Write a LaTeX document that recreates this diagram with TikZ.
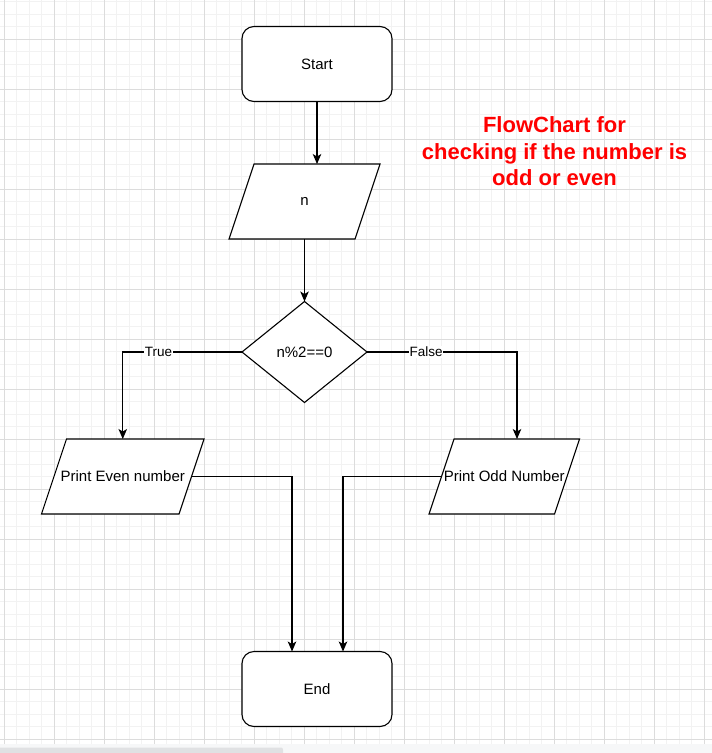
\documentclass[tikz,border=0pt]{standalone}
\usepackage{fontspec}
\setmainfont{Liberation Sans}
\usetikzlibrary{shapes.geometric,arrows.meta}
\definecolor{minorc}{RGB}{242,242,242}
\definecolor{majorc}{RGB}{220,220,220}
\definecolor{stripc}{RGB}{246,247,248}
\definecolor{thumbc}{RGB}{224,225,227}
\definecolor{titlered}{RGB}{255,0,0}
\tikzset{
  minorline/.style={draw=minorc, line width=0.9pt},
  majorline/.style={draw=majorc, line width=0.9pt},
  term/.style={draw, fill=white, rounded corners=12pt, line width=1.1pt,
    minimum width=150pt, minimum height=75pt, inner sep=0pt, outer sep=0pt,
    font=\fontsize{15}{18}\selectfont},
  io/.style={rectangle, minimum height=75pt, inner sep=0pt, outer sep=0pt},
  ioshape/.style={draw, fill=white, line width=1.1pt, line join=miter},
  iotext/.style={font=\fontsize{15}{18}\selectfont, inner sep=0pt},
  decision/.style={draw, fill=white, diamond, minimum width=125pt,
    minimum height=101pt, inner sep=0pt, outer sep=0pt, line width=1.1pt,
    font=\fontsize{15}{18}\selectfont},
  arr/.style={line width=1.1pt, -{Stealth[length=10pt,width=8.5pt,inset=2.5pt]}},
  lbl/.style={fill=white, inner sep=0.6pt, font=\fontsize{13.5}{16}\selectfont},
  titletext/.style={text=titlered, align=center,
    font=\bfseries\fontsize{22}{26.6}\selectfont}
}
\newcommand{\paralshape}[1]{%
  \draw[ioshape] ([xshift=-12.5pt]#1.south west) -- ([xshift=-12.5pt]#1.south east)
    -- ([xshift=12.5pt]#1.north east) -- ([xshift=12.5pt]#1.north west) -- cycle;}
\begin{document}
\begin{tikzpicture}[x=1pt,y=-1pt]
\useasboundingbox (0,0) rectangle (712,753);
\fill[white] (0,0) rectangle (712,753);
% grid
\foreach \i in {0,...,57} {
  \pgfmathsetmacro{\xx}{4.3+12.5*\i}
  \draw[minorline] (\xx,0) -- (\xx,743.5);
}
\foreach \i in {0,...,59} {
  \pgfmathsetmacro{\yy}{1.6+12.5*\i}
  \ifdim\yy pt<743pt \draw[minorline] (0,\yy) -- (712,\yy); \fi
}
\foreach \i in {0,...,14} {
  \pgfmathsetmacro{\xx}{4.3+50*\i}
  \draw[majorline] (\xx,0) -- (\xx,743.5);
}
\foreach \i in {0,...,14} {
  \pgfmathsetmacro{\yy}{39.1+50*\i}
  \ifdim\yy pt<743pt \draw[majorline] (0,\yy) -- (712,\yy); \fi
}
% bottom scroll strip
\fill[stripc] (0,743.5) rectangle (712,753);
\fill[thumbc, rounded corners=2pt] (-3,747.5) rectangle (283,755);

% nodes
\node[term] (start) at (317,64) {Start};
\node[io, minimum width=126pt] (n) at (304.5,201.5) {};
\paralshape{n}
\node[iotext] (ntext) at (n.center) {n};
\node[decision] (dec) at (304.5,352) {n\%2==0};
\node[io, minimum width=137.5pt] (even) at (122.75,476.5) {};
\paralshape{even}
\node[iotext] (eventext) at (even.center) {Print Even number};
\node[io, minimum width=125.5pt] (odd) at (504.25,476.5) {};
\paralshape{odd}
\node[iotext] (oddtext) at (odd.center) {Print Odd Number};
\node[term] (end) at (317,689) {End};
\node[titletext] (title) at (554.5,151.5) {FlowChart for\\checking if the number is\\odd or even};

% connectors
\draw[arr] (start.south) -- (start.south |- n.north);
\draw[arr] (n.south) -- (dec.north);
\draw[arr] (dec.west) -| node[lbl, pos=0.35] {True} (even.north);
\draw[arr] (dec.east) -| node[lbl, pos=0.197] {False} ([xshift=12.75pt]odd.north);
\draw[arr] (even.east) -| ([xshift=-25pt]end.north);
\draw[arr] (odd.west) -| ([xshift=26pt]end.north);
\end{tikzpicture}
\end{document}
